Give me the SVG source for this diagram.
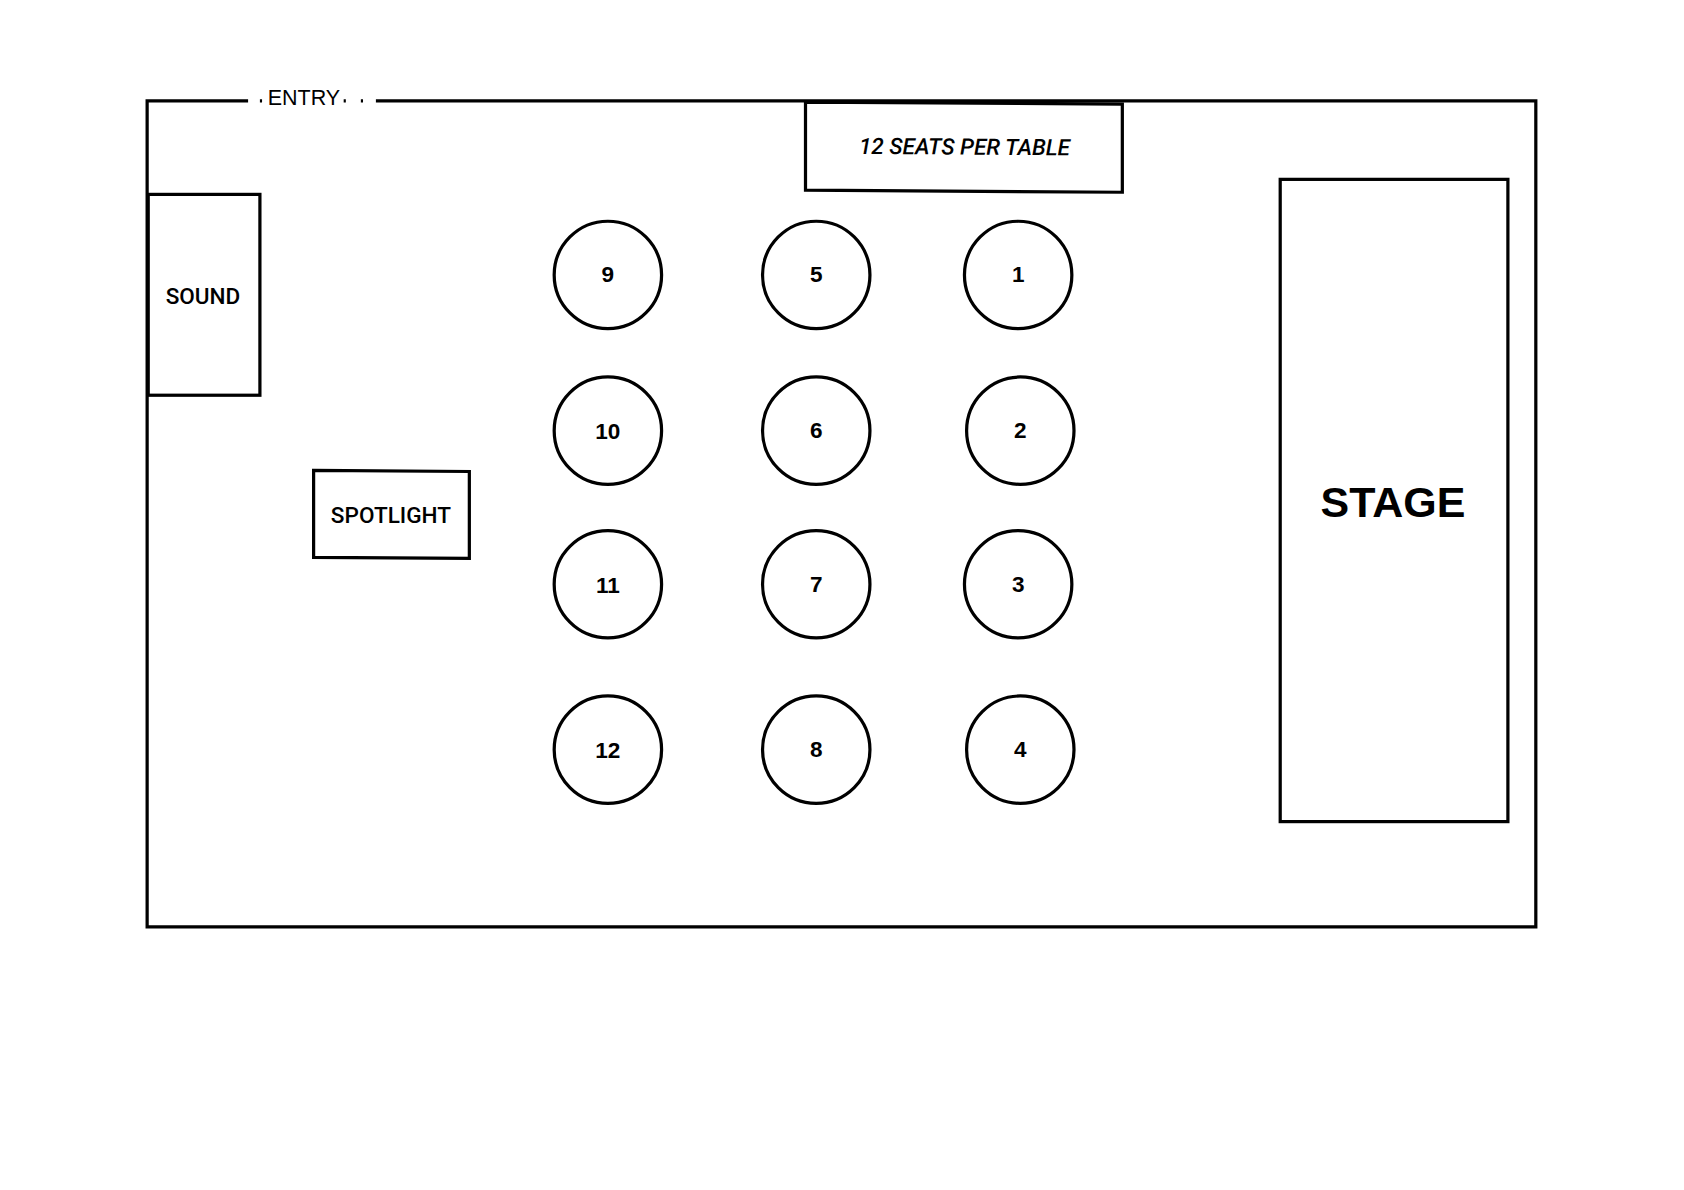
<svg xmlns="http://www.w3.org/2000/svg" width="1684" height="1190" viewBox="0 0 1684 1190">
<style>
.s{fill:none;stroke:#000;stroke-width:3}
.t{font-family:"Liberation Sans",Arial,sans-serif;font-size:21px;text-anchor:middle;dominant-baseline:central;fill:#000}
.b{font-weight:bold}
.m{font-family:Roboto,"Liberation Sans",sans-serif;font-weight:500}
</style>
<rect width="1684" height="1190" fill="#fff"/>
<g transform="scale(1.074)">
<g id="room">
<path class="s" d="M231,94 H137 V863 H1430 V94 H350"/>
<path class="s" d="M242,94 h2 M320,94 h2 M336,94 h2" stroke-width="2"/>
<text class="t" x="283" y="91" style="font-size:20px">ENTRY</text>
</g>
<g id="note"><path class="s" d="M750,95 L1045,97 L1045,179 L750,177 Z"/><text class="t m" x="898" y="137" style="font-style:italic" transform="rotate(0.4 898 137)">12 SEATS PER TABLE</text></g>
<g id="sound"><rect class="s" x="138" y="181" width="104" height="187"/><text class="t m" x="189" y="276">SOUND</text></g>
<g id="spotlight"><path class="s" d="M292,438 L437,439 L437,520 L292,519 Z"/><text class="t m" x="364" y="480">SPOTLIGHT</text></g>
<g id="stage"><rect class="s" x="1192" y="167" width="212" height="598"/><text class="t b" x="1297" y="467" style="font-size:40px">STAGE</text></g>
<g id="tables">
<g id="t9"><circle class="s" cx="566" cy="256" r="50"/><text class="t b" x="566" y="256">9</text></g>
<g id="t5"><circle class="s" cx="760" cy="256" r="50"/><text class="t b" x="760" y="256">5</text></g>
<g id="t1"><circle class="s" cx="948" cy="256" r="50"/><text class="t b" x="948" y="256">1</text></g>
<g id="t10"><circle class="s" cx="566" cy="401" r="50"/><text class="t b" x="566" y="402">10</text></g>
<g id="t6"><circle class="s" cx="760" cy="401" r="50"/><text class="t b" x="760" y="401">6</text></g>
<g id="t2"><circle class="s" cx="950" cy="401" r="50"/><text class="t b" x="950" y="401">2</text></g>
<g id="t11"><circle class="s" cx="566" cy="544" r="50"/><text class="t b" x="566" y="545">11</text></g>
<g id="t7"><circle class="s" cx="760" cy="544" r="50"/><text class="t b" x="760" y="544">7</text></g>
<g id="t3"><circle class="s" cx="948" cy="544" r="50"/><text class="t b" x="948" y="544">3</text></g>
<g id="t12"><circle class="s" cx="566" cy="698" r="50"/><text class="t b" x="566" y="699">12</text></g>
<g id="t8"><circle class="s" cx="760" cy="698" r="50"/><text class="t b" x="760" y="698">8</text></g>
<g id="t4"><circle class="s" cx="950" cy="698" r="50"/><text class="t b" x="950" y="698">4</text></g>
</g>
<g id="connectors"/>
</g>
</svg>
